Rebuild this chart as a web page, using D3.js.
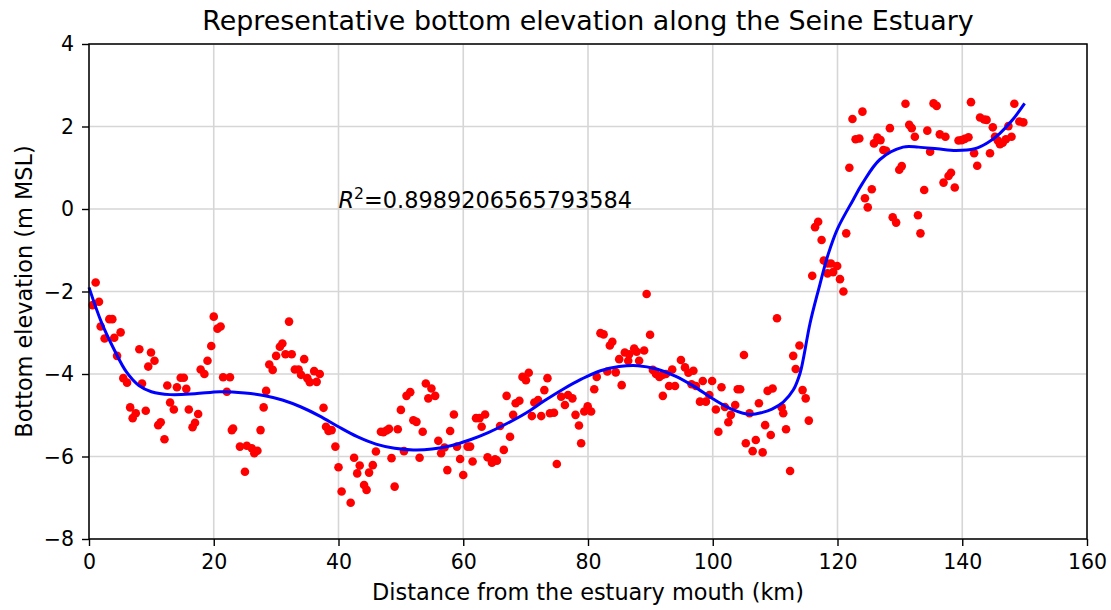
<!DOCTYPE html>
<html>
<head>
<meta charset="utf-8">
<script src="https://cdn.jsdelivr.net/npm/d3@7/dist/d3.min.js"></script>
<style>
  html, body { margin: 0; padding: 0; background: #ffffff; }
  svg { display: block; font-family: "DejaVu Sans", sans-serif; }
</style>
</head>
<body>
<svg id="chart" width="1111" height="610"></svg>
<script>
// Surveyed bottom elevation samples (distance in km, elevation in m MSL)
const distanceKm = [
  0.59, 1.07, 1.6, 1.87, 2.5, 3.26, 3.74, 4.05, 4.5, 5.07, 5.5, 6.1, 6.6, 7.0, 7.5, 8.07, 8.5, 9.1, 9.5, 9.94,
  10.5, 11.1, 11.5, 12.1, 12.55, 13.0, 13.6, 14.1, 14.7, 15.2, 15.6, 16.0, 16.6, 17.0, 17.5, 17.9, 18.5, 19.0, 19.6, 20.0,
  20.6, 21.1, 21.5, 22.1, 22.6, 22.9, 23.1, 24.2, 25.0, 25.3, 26.1, 26.5, 27.0, 27.5, 28.0, 28.4, 28.9, 29.45, 30.0, 30.6,
  31.0, 31.5, 32.07, 32.5, 33.0, 33.6, 34.0, 34.5, 35.0, 35.4, 36.1, 36.5, 37.0, 37.6, 38.0, 38.4, 38.9, 39.5, 40.0, 40.5,
  41.95, 42.5, 43.0, 43.4, 44.1, 44.5, 44.9, 45.5, 46.0, 46.8, 47.2, 47.7, 48.1, 48.5, 49.0, 49.5, 50.0, 50.5, 50.9, 51.5,
  52.0, 52.5, 53.0, 53.5, 54.0, 54.4, 54.9, 55.5, 56.0, 56.45, 57.0, 57.45, 57.9, 58.5, 59.0, 59.5, 60.0, 60.7, 61.1, 61.5,
  62.05, 62.6, 62.95, 63.5, 63.9, 64.6, 65.1, 65.4, 65.9, 66.5, 66.95, 67.5, 68.0, 68.4, 69.0, 69.5, 70.05, 70.5, 71.0, 71.4,
  72.0, 72.5, 73.0, 73.5, 73.9, 74.55, 75.0, 75.7, 76.3, 76.8, 77.5, 78.0, 78.55, 78.9, 79.4, 79.95, 80.5, 81.0, 81.4, 82.0,
  82.5, 83.1, 83.5, 83.9, 84.45, 85.0, 85.4, 85.9, 86.45, 86.6, 87.4, 87.8, 88.2, 89.0, 89.4, 89.95, 90.4, 90.9, 91.45, 92.0,
  92.0, 92.5, 93.0, 93.5, 93.95, 94.9, 95.55, 96.1, 96.6, 96.9, 97.3, 97.95, 98.4, 98.9, 99.45, 99.9, 100.5, 100.9, 101.4, 101.95,
  102.5, 102.9, 103.6, 104.0, 104.4, 105.0, 105.3, 105.9, 106.4, 106.9, 107.4, 108.0, 108.4, 108.8, 109.3, 109.6, 110.3, 111.05, 111.3, 111.75,
  112.4, 112.9, 113.3, 113.9, 114.4, 114.9, 115.4, 115.95, 116.4, 116.9, 117.45, 117.8, 118.4, 118.4, 118.95, 119.3, 119.95, 120.4, 120.95, 121.4,
  121.9, 122.4, 122.9, 123.5, 124.0, 124.4, 124.85, 125.5, 125.85, 126.4, 126.9, 127.35, 127.8, 128.4, 128.85, 129.4, 129.9, 130.3, 130.9, 131.5,
  131.9, 132.4, 132.9, 133.3, 133.9, 134.4, 134.85, 135.4, 135.9, 136.4, 137.0, 137.3, 137.8, 138.2, 138.8, 139.4, 139.9, 140.4, 141.0, 141.4,
  141.9, 142.4, 142.85, 143.5, 143.9, 144.45, 144.9, 145.25, 145.7, 146.05, 146.5, 147.0, 147.4, 147.9, 148.35, 149.15, 149.8
];
const elevationM = [
  -2.33, -1.78, -2.25, -2.85, -3.14, -2.67, -2.67, -3.12, -3.56, -2.99, -4.1, -4.21, -4.81, -5.07, -4.95, -3.4, -4.23, -4.89, -3.82, -3.48,
  -3.68, -5.24, -5.17, -5.58, -4.28, -4.69, -4.86, -4.32, -4.09, -4.09, -4.36, -4.86, -5.29, -5.18, -4.97, -3.89, -4.0, -3.68, -3.32, -2.61,
  -2.9, -2.85, -4.08, -4.43, -4.08, -5.36, -5.32, -5.76, -6.37, -5.74, -5.8, -5.92, -5.86, -5.36, -4.81, -4.41, -3.77, -3.9, -3.56, -3.34,
  -3.26, -3.52, -2.73, -3.52, -3.89, -3.89, -4.02, -3.64, -4.1, -4.2, -3.93, -4.19, -4.0, -4.82, -5.28, -5.38, -5.36, -5.76, -6.26, -6.85,
  -7.12, -6.03, -6.41, -6.22, -6.69, -6.81, -6.39, -6.21, -5.88, -5.4, -5.41, -5.37, -5.33, -6.04, -6.73, -5.34, -4.87, -5.87, -4.53, -4.44,
  -5.12, -5.16, -6.03, -5.4, -4.23, -4.59, -4.35, -4.53, -5.62, -5.92, -5.78, -6.33, -5.38, -4.98, -5.76, -6.06, -6.45, -5.76, -5.76, -6.12,
  -5.07, -5.07, -5.28, -4.98, -6.02, -6.15, -6.07, -6.1, -5.26, -5.84, -4.53, -5.52, -4.99, -4.71, -4.65, -4.07, -4.15, -3.97, -5.02, -4.69,
  -4.63, -5.02, -4.39, -4.1, -4.95, -4.94, -6.18, -4.55, -4.75, -4.51, -4.59, -4.99, -5.25, -5.68, -4.91, -4.78, -4.91, -4.37, -4.07, -3.01,
  -3.04, -3.94, -3.31, -3.22, -3.96, -3.64, -4.27, -3.48, -3.68, -3.52, -3.38, -3.46, -3.68, -3.43, -2.06, -3.05, -3.9, -4.0, -4.07, -4.02,
  -4.53, -4.0, -4.29, -3.89, -4.29, -3.66, -3.84, -3.97, -4.25, -3.92, -4.29, -4.67, -4.17, -4.67, -4.51, -4.17, -4.86, -5.4, -4.32, -4.8,
  -5.17, -4.99, -4.75, -4.37, -4.37, -3.54, -5.68, -4.95, -5.87, -5.6, -4.71, -5.9, -5.24, -4.41, -5.48, -4.35, -2.65, -4.81, -4.95, -5.34,
  -6.35, -3.56, -3.88, -3.31, -4.39, -4.59, -5.13, -1.62, -0.44, -0.31, -0.75, -1.25, -1.32, -1.56, -1.32, -1.53, -1.38, -1.7, -2.0, -0.59,
  1.0, 2.18, 1.69, 1.71, 2.36, 0.26, 0.04, 0.48, 1.59, 1.73, 1.67, 1.43, 1.41, 1.96, -0.2, -0.33, 0.95, 1.04, 2.55, 2.04,
  1.96, 1.75, -0.15, -0.59, 0.46, 1.9, 1.39, 2.56, 2.5, 1.81, 0.64, 1.75, 0.8, 0.88, 0.52, 1.66, 1.67, 1.7, 1.74, 2.59,
  1.35, 1.05, 2.22, 2.17, 2.16, 1.35, 1.98, 1.75, 1.66, 1.57, 1.61, 1.69, 2.01, 1.75, 2.55, 2.12, 2.1
];

// Fitted trend curve (distance km, elevation m)
const fitKm = [
  0, 2, 4, 6, 8, 10, 13, 17, 21, 25, 28, 31, 34, 37, 40, 43, 46, 49, 52, 55,
  58, 61, 64, 67, 70, 73, 76, 79, 82, 85, 88, 91, 94, 97, 100, 103, 106, 108, 109.5, 111.3,
  112.9, 114.0, 114.5, 115.6, 116.95, 118.5, 120, 122.5, 124, 126.8, 130.5, 133, 136, 139, 142, 144, 146, 148, 150
];
const fitM = [
  -1.9, -2.75, -3.4, -3.95, -4.28, -4.43, -4.5, -4.48, -4.43, -4.46, -4.52, -4.63, -4.8, -5.02, -5.28, -5.52, -5.7, -5.8, -5.84, -5.82,
  -5.74, -5.6, -5.42, -5.2, -4.95, -4.65, -4.37, -4.12, -3.92, -3.82, -3.8, -3.88, -4.05, -4.3, -4.6, -4.85, -4.98, -4.93, -4.85, -4.68,
  -4.39, -3.98, -3.65, -2.77, -1.96, -1.1, -0.48, 0.22, 0.62, 1.2, 1.5, 1.5, 1.46, 1.42, 1.46, 1.6, 1.83, 2.15, 2.56
];

const xTicks = [0, 20, 40, 60, 80, 100, 120, 140, 160];
const yTicks = [-8, -6, -4, -2, 0, 2, 4];
const rSquared = "0.8989206565793584";

const titleText = "Representative bottom elevation along the Seine Estuary";
const xLabelText = "Distance from the estuary mouth (km)";
const yLabelText = "Bottom elevation (m MSL)";

const margin = { left: 89, right: 24, top: 44, bottom: 71 };
const W = 1111, H = 610;
const svg = d3.select("#chart");

const x = d3.scaleLinear().domain([0, 160]).range([margin.left, W - margin.right]);
const y = d3.scaleLinear().domain([-8, 4]).range([H - margin.bottom, margin.top]);

const fmt = d => (d < 0 ? "\u2212" + Math.abs(d) : String(d));

// Grid
const grid = svg.append("g").attr("stroke", "#d6d6d6").attr("stroke-width", 1.6);
grid.selectAll("line.gx").data(xTicks).join("line")
  .attr("x1", d => x(d)).attr("x2", d => x(d))
  .attr("y1", y(-8)).attr("y2", y(4));
grid.selectAll("line.gy").data(yTicks).join("line")
  .attr("x1", x(0)).attr("x2", x(160))
  .attr("y1", d => y(d)).attr("y2", d => y(d));

// Scatter points
const pts = distanceKm.map((d, i) => ({ x: d, y: elevationM[i] }));
svg.append("g").selectAll("circle").data(pts).join("circle")
  .attr("cx", d => x(d.x)).attr("cy", d => y(d.y)).attr("r", 4.3)
  .attr("fill", "#ff0000");

// Fit line
const fit = fitKm.map((d, i) => [d, fitM[i]]);
svg.append("path").datum(fit)
  .attr("fill", "none").attr("stroke", "#0000ff").attr("stroke-width", 3)
  .attr("d", d3.line().x(d => x(d[0])).y(d => y(d[1])).curve(d3.curveCatmullRom.alpha(0.5)));

// Axes
const xAxis = svg.append("g").attr("transform", `translate(0,${y(-8)})`)
  .call(d3.axisBottom(x).tickValues(xTicks).tickFormat(fmt).tickSizeOuter(0).tickSize(7).tickPadding(8));
const yAxis = svg.append("g").attr("transform", `translate(${x(0)},0)`)
  .call(d3.axisLeft(y).tickValues(yTicks).tickFormat(fmt).tickSizeOuter(0).tickSize(7).tickPadding(8));
[xAxis, yAxis].forEach(a => {
  a.select(".domain").remove();
  a.selectAll(".tick line").attr("stroke", "#000").attr("stroke-width", 1.4);
  a.selectAll(".tick text").attr("fill", "#000").style("font-size", "20.5px")
    .style("font-family", "DejaVu Sans");
});

// Frame
svg.append("rect")
  .attr("x", x(0)).attr("y", y(4))
  .attr("width", x(160) - x(0)).attr("height", y(-8) - y(4))
  .attr("fill", "none").attr("stroke", "#000").attr("stroke-width", 1.5);

// Annotation
const ann = svg.append("text")
  .attr("x", x(40)).attr("y", y(0) - 1)
  .attr("font-size", 22.4).attr("fill", "#000");
ann.append("tspan").attr("font-style", "italic").text("R");
ann.append("tspan").attr("dy", -9).attr("font-size", 15.7).text("2");
ann.append("tspan").attr("dy", 9).text("=" + rSquared);

// Title and axis labels
svg.append("text").attr("x", (x(0) + x(160)) / 2).attr("y", 30)
  .attr("text-anchor", "middle").attr("font-size", 26.9).attr("fill", "#000").text(titleText);
svg.append("text").attr("x", (x(0) + x(160)) / 2).attr("y", 600)
  .attr("text-anchor", "middle").attr("font-size", 22.4).attr("fill", "#000").text(xLabelText);
svg.append("text").attr("transform", `translate(31.5,${(y(4) + y(-8)) / 2}) rotate(-90)`)
  .attr("text-anchor", "middle").attr("font-size", 22.4).attr("fill", "#000").text(yLabelText);
</script>
</body>
</html>
